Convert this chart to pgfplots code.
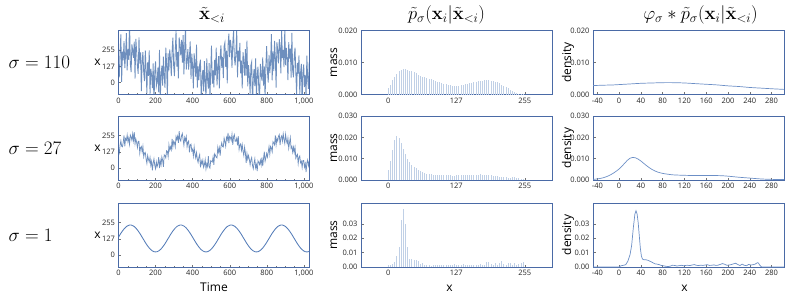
\RequirePackage{fix-cm}
\documentclass[border=0pt]{standalone}
\usepackage{pgfplots}
\pgfplotsset{compat=1.18}
\usepackage[no-math]{fontspec}
\setmainfont{Open Sans}
\definecolor{framec}{RGB}{74,106,166}
\definecolor{tsc}{RGB}{62,106,168}
\definecolor{sinc}{RGB}{84,124,184}
\definecolor{barc}{RGB}{192,208,230}
\definecolor{densc}{RGB}{108,143,198}
\newcommand\lbl{\fontsize{12}{14}\selectfont}
\newcommand\ttl{\fontsize{18.5}{22}\selectfont}
\newcommand\rowl{\fontsize{19}{22}\selectfont}
\pgfplotsset{
  base/.style={
    scale only axis, width=191pt, height=64pt, anchor=north west,
    axis line style={framec, line width=0.8pt},
    tick align=inside, major tick length=2.5pt, minor tick length=1.5pt,
    every tick/.style={black!55, line width=0.4pt},
    xtick pos=bottom, ytick pos=left,
    tick label style={font=\fontsize{7.5}{9}\selectfont, text=black!85},
    /pgf/number format/assume math mode=true,
    clip mode=individual,
    scaled ticks=false,
  },
  c1/.style={base, xmin=0, xmax=1030, ymin=-95, ymax=410,
    xtick={0,200,400,600,800,1000}, minor x tick num=3, ytick={0,127,255},
    xticklabel style={/pgf/number format/.cd, 1000 sep={,}}},
  c2/.style={base, xmin=-51, xmax=306, ymin=0, xtick={0,127,255}},
  c3/.style={base, xmin=-48, xmax=303, ymin=0, xtick={-40,0,40,80,120,160,200,240,280}},
  p3/.style={yticklabel style={/pgf/number format/.cd, fixed, fixed zerofill, precision=3}},
  p2/.style={yticklabel style={/pgf/number format/.cd, fixed, fixed zerofill, precision=2}},
  ts/.style={tsc, line width=0.75pt, opacity=0.75},
  bars/.style={ycomb, barc, line width=0.9pt, no markers},
  dens/.style={densc, line width=0.7pt, no markers},
}
\begin{document}
\begin{tikzpicture}
\useasboundingbox (0,0) rectangle (789pt,-298pt);
% ---------------- Row 1 ----------------
\begin{axis}[c1, at={(118.5pt,-30.5pt)}]
\addplot[ts, line width=0.85pt] table[row sep=\\, x expr=\coordindex*4.25, y index=0] {y\\96\\41\\249\\380\\4\\244\\175\\326\\113\\218\\389\\96\\264\\179\\500\\148\\82\\300\\253\\195\\323\\31\\344\\249\\131\\68\\356\\149\\238\\-69\\173\\240\\76\\10\\253\\100\\-85\\159\\52\\253\\-95\\108\\59\\-45\\150\\-183\\80\\167\\-30\\4\\117\\-78\\257\\-134\\48\\132\\-25\\203\\47\\-43\\275\\153\\-122\\229\\96\\261\\183\\50\\246\\354\\131\\51\\245\\405\\125\\239\\33\\355\\291\\214\\335\\157\\374\\63\\268\\449\\102\\172\\263\\101\\202\\325\\29\\228\\129\\-46\\230\\142\\44\\298\\-41\\126\\19\\143\\180\\-178\\48\\98\\-70\\169\\3\\-119\\190\\26\\-48\\153\\-128\\86\\290\\-11\\96\\-39\\179\\56\\275\\-23\\109\\207\\-47\\206\\293\\116\\202\\35\\285\\315\\124\\251\\-7\\294\\385\\201\\335\\280\\115\\311\\407\\195\\136\\240\\421\\40\\252\\167\\312\\72\\172\\-47\\239\\163\\54\\263\\55\\331\\-30\\137\\52\\-88\\136\\163\\-183\\32\\106\\-29\\190\\-108\\58\\125\\-48\\-144\\147\\64\\15\\198\\-25\\126\\-129\\133\\286\\87\\-1\\218\\74\\162\\381\\17\\246\\90\\329\\194\\-41\\317\\257\\151\\341\\278\\71\\412\\192\\256\\121\\426\\136\\273\\190\\18\\318\\189\\268\\39\\392\\96\\41\\207\\274\\76\\-99\\155\\69\\214\\-91\\77\\147\\-189\\81\\142\\-37\\59\\-118\\211\\36\\-51\\161\\};
\node[font=\lbl] at ([xshift=-21pt]rel axis cs:0,0.5) {x};
\node[font=\ttl] at ([xshift=-2pt,yshift=15.5pt]rel axis cs:0.5,1) {$\tilde{\mathbf{x}}_{<i}$};
\node[anchor=west, font=\rowl] at ([xshift=-113.5pt]rel axis cs:0,0.5) {$\sigma = 110$};
\end{axis}
\begin{axis}[c2, p3, at={(361pt,-30.5pt)}, ymax=0.02, ytick={0,0.01,0.02}]
\addplot[bars] table[row sep=\\, x expr=\coordindex*4, y index=0] {y\\0.0019\\0.0030\\0.0045\\0.0056\\0.0065\\0.0072\\0.0076\\0.0079\\0.0079\\0.0077\\0.0075\\0.0072\\0.0069\\0.0066\\0.0062\\0.0059\\0.0056\\0.0054\\0.0052\\0.0050\\0.0047\\0.0045\\0.0042\\0.0040\\0.0038\\0.0036\\0.0034\\0.0032\\0.0030\\0.0029\\0.0028\\0.0027\\0.0027\\0.0028\\0.0029\\0.0030\\0.0032\\0.0033\\0.0035\\0.0037\\0.0039\\0.0040\\0.0041\\0.0042\\0.0043\\0.0044\\0.0044\\0.0044\\0.0043\\0.0042\\0.0040\\0.0038\\0.0035\\0.0031\\0.0027\\0.0023\\0.0019\\0.0015\\0.0011\\0.0008\\0.0005\\0.0003\\0.0002\\0.0001\\};
\node[rotate=90, font=\lbl] at ([xshift=-27pt]rel axis cs:0,0.5) {mass};
\node[font=\ttl] at ([xshift=-10pt,yshift=15.5pt]rel axis cs:0.5,1) {$\tilde{p}_\sigma(\mathbf{x}_i|\tilde{\mathbf{x}}_{<i})$};
\end{axis}
\begin{axis}[c3, p3, at={(593pt,-30.5pt)}, ymax=0.02, ytick={0,0.01,0.02}]
\addplot[dens, smooth] coordinates {(-48,0.0028) (-30,0.0029) (-10,0.0030) (0,0.0031) (20,0.0033) (40,0.0035) (60,0.0036) (80,0.0037) (100,0.0037) (120,0.0036) (140,0.0034) (160,0.0032) (180,0.0030) (200,0.0027) (220,0.0025) (240,0.0022) (260,0.0020) (280,0.0018) (303,0.0016)};
\node[rotate=90, font=\lbl] at ([xshift=-25pt]rel axis cs:0,0.5) {density};
\node[font=\ttl] at ([xshift=12pt,yshift=15.5pt]rel axis cs:0.5,1) {$\varphi_\sigma * \tilde{p}_\sigma(\mathbf{x}_i|\tilde{\mathbf{x}}_{<i})$};
\end{axis}
% ---------------- Row 2 ----------------
\begin{axis}[c1, at={(118.5pt,-116pt)}]
\addplot[ts] table[row sep=\\, x expr=\coordindex*4.25, y index=0] {y\\151\\121\\180\\214\\172\\167\\202\\256\\171\\232\\219\\260\\207\\237\\187\\260\\244\\218\\269\\217\\283\\191\\228\\202\\162\\211\\210\\117\\161\\170\\126\\171\\88\\117\\123\\70\\37\\98\\68\\47\\83\\20\\51\\-19\\40\\72\\20\\-6\\47\\10\\32\\86\\-1\\58\\24\\87\\60\\9\\104\\97\\80\\136\\131\\89\\183\\140\\166\\144\\229\\167\\211\\200\\166\\248\\224\\250\\199\\291\\222\\212\\255\\272\\223\\179\\240\\215\\247\\167\\202\\213\\123\\182\\188\\135\\148\\95\\166\\112\\80\\121\\69\\44\\85\\106\\5\\56\\32\\62\\5\\26\\66\\-8\\33\\12\\94\\10\\-1\\58\\53\\47\\87\\25\\112\\100\\83\\79\\163\\125\\159\\97\\169\\198\\169\\165\\235\\208\\171\\240\\221\\277\\196\\250\\241\\217\\266\\183\\245\\263\\210\\213\\234\\178\\251\\146\\180\\190\\139\\183\\132\\98\\163\\120\\40\\113\\69\\98\\68\\25\\64\\83\\21\\-6\\37\\72\\1\\27\\-24\\56\\43\\27\\61\\23\\83\\14\\74\\128\\53\\81\\115\\87\\125\\168\\108\\170\\158\\128\\207\\197\\183\\256\\182\\232\\213\\250\\263\\180\\239\\252\\212\\269\\226\\193\\265\\218\\193\\235\\156\\200\\239\\155\\169\\124\\164\\122\\163\\77\\96\\108\\34\\85\\95\\41\\53\\4\\59\\59\\7\\34\\-32\\40\\63\\18\\53\\};
\node[font=\lbl] at ([xshift=-21pt]rel axis cs:0,0.5) {x};
\node[anchor=west, font=\rowl] at ([xshift=-113.5pt]rel axis cs:0,0.5) {$\sigma = 27$};
\end{axis}
\begin{axis}[c2, p3, at={(361pt,-116pt)}, ymax=0.03, ytick={0,0.01,0.02,0.03}]
\addplot[bars] table[row sep=\\, x expr=\coordindex*4, y index=0] {y\\0.0045\\0.0088\\0.0140\\0.0186\\0.0206\\0.0195\\0.0172\\0.0145\\0.0120\\0.0100\\0.0085\\0.0072\\0.0062\\0.0054\\0.0047\\0.0042\\0.0037\\0.0033\\0.0030\\0.0028\\0.0026\\0.0025\\0.0024\\0.0024\\0.0023\\0.0023\\0.0022\\0.0022\\0.0022\\0.0022\\0.0021\\0.0021\\0.0022\\0.0022\\0.0023\\0.0023\\0.0024\\0.0024\\0.0024\\0.0025\\0.0025\\0.0025\\0.0025\\0.0026\\0.0025\\0.0025\\0.0024\\0.0023\\0.0022\\0.0021\\0.0020\\0.0018\\0.0016\\0.0014\\0.0013\\0.0012\\0.0011\\0.0010\\0.0012\\0.0015\\0.0011\\0.0008\\0.0007\\0.0007\\};
\node[rotate=90, font=\lbl] at ([xshift=-27pt]rel axis cs:0,0.5) {mass};
\end{axis}
\begin{axis}[c3, p3, at={(593pt,-116pt)}, ymax=0.03, ytick={0,0.01,0.02,0.03}]
\addplot[dens, smooth] coordinates {(-48,0.0003) (-40,0.0005) (-30,0.0010) (-20,0.0019) (-10,0.0033) (0,0.0052) (10,0.0078) (15,0.0092) (20,0.0102) (25,0.0106) (30,0.0104) (35,0.0098) (40,0.0089) (50,0.0068) (60,0.0050) (70,0.0038) (80,0.0031) (90,0.0027) (100,0.0024) (120,0.0022) (140,0.0021) (160,0.0021) (175,0.0021) (190,0.0020) (200,0.0018) (220,0.0013) (240,0.0009) (260,0.0005) (280,0.0003) (303,0.0002)};
\node[rotate=90, font=\lbl] at ([xshift=-25pt]rel axis cs:0,0.5) {density};
\end{axis}
% ---------------- Row 3 ----------------
\begin{axis}[c1, at={(118.5pt,-203pt)}]
\addplot[sinc, line width=0.85pt] table[row sep=\\, x expr=\coordindex*4.25, y index=0] {y\\140\\151\\161\\171\\180\\189\\197\\205\\212\\218\\224\\228\\231\\234\\236\\236\\236\\234\\231\\228\\224\\218\\212\\205\\197\\189\\180\\171\\161\\151\\140\\130\\120\\109\\99\\89\\80\\71\\63\\55\\48\\42\\37\\32\\29\\26\\25\\24\\25\\26\\29\\32\\37\\42\\48\\55\\63\\71\\80\\89\\99\\109\\120\\130\\140\\151\\161\\171\\180\\189\\197\\205\\212\\218\\224\\228\\231\\234\\236\\236\\236\\234\\231\\228\\224\\218\\212\\205\\197\\189\\180\\171\\161\\151\\140\\130\\120\\109\\99\\89\\80\\71\\63\\55\\48\\42\\37\\32\\29\\26\\25\\24\\25\\26\\29\\32\\37\\42\\48\\55\\63\\71\\80\\89\\99\\109\\120\\130\\140\\151\\161\\171\\180\\189\\197\\205\\212\\218\\224\\228\\231\\234\\236\\236\\236\\234\\231\\228\\224\\218\\212\\205\\197\\189\\180\\171\\161\\151\\140\\130\\120\\109\\99\\89\\80\\71\\63\\55\\48\\42\\37\\32\\29\\26\\25\\24\\25\\26\\29\\32\\37\\42\\48\\55\\63\\71\\80\\89\\99\\109\\120\\130\\140\\151\\161\\171\\180\\189\\197\\205\\212\\218\\224\\228\\231\\234\\236\\236\\236\\234\\231\\228\\224\\218\\212\\205\\197\\189\\180\\171\\161\\151\\140\\130\\120\\109\\99\\89\\80\\71\\63\\55\\48\\42\\37\\32\\29\\26\\25\\24\\25\\26\\29\\};
\node[font=\lbl] at ([xshift=-21pt]rel axis cs:0,0.5) {x};
\node[font=\lbl] at ([yshift=-20pt]rel axis cs:0.5,0) {Time};
\node[anchor=west, font=\rowl] at ([xshift=-113.5pt]rel axis cs:0,0.5) {$\sigma = 1$};
\end{axis}
\begin{axis}[c2, p2, at={(361pt,-203pt)}, ymax=0.0446, ytick={0,0.01,0.02,0.03}]
\addplot[bars] table[row sep=\\, x expr=\coordindex*4, y index=0] {y\\0.0012\\0.0013\\0.0020\\0.0035\\0.0080\\0.0140\\0.0330\\0.0403\\0.0300\\0.0140\\0.0058\\0.0055\\0.0052\\0.0050\\0.0040\\0.0020\\0.0027\\0.0015\\0.0017\\0.0017\\0.0010\\0.0013\\0.0017\\0.0014\\0.0013\\0.0016\\0.0012\\0.0014\\0.0017\\0.0013\\0.0016\\0.0022\\0.0015\\0.0013\\0.0014\\0.0019\\0.0012\\0.0014\\0.0013\\0.0017\\0.0012\\0.0015\\0.0016\\0.0022\\0.0014\\0.0012\\0.0035\\0.0033\\0.0018\\0.0017\\0.0025\\0.0016\\0.0030\\0.0040\\0.0020\\0.0013\\0.0030\\0.0029\\0.0012\\0.0028\\0.0015\\0.0020\\0.0026\\0.0038\\};
\node[rotate=90, font=\lbl] at ([xshift=-27pt]rel axis cs:0,0.5) {mass};
\node[font=\lbl] at ([xshift=-7pt,yshift=-21pt]rel axis cs:0.5,0) {x};
\end{axis}
\begin{axis}[c3, p2, at={(593pt,-203pt)}, ymax=0.0446, ytick={0,0.01,0.02,0.03}]
\addplot[dens] coordinates {(-48,0) (0,0) (3,0.0008) (8,0.0012) (12,0.0016) (16,0.0040) (20,0.0085) (23,0.0150) (26,0.0270) (29,0.0370) (31,0.0392) (33,0.0370) (35,0.0310) (37,0.0220) (39,0.0130) (41,0.0075) (43,0.0055) (46,0.0050) (50,0.0050) (54,0.0045) (58,0.0038) (62,0.0030) (66,0.0022) (70,0.0020) (74,0.0016) (78,0.0010) (82,0.0008) (86,0.0005) (90,0.0003) (94,0.0006) (98,0.0012) (102,0.0011) (106,0.0007) (110,0.0009) (114,0.0012) (118,0.0009) (122,0.0011) (126,0.0012) (130,0.0010) (134,0.0014) (138,0.0017) (142,0.0012) (146,0.0010) (150,0.0013) (154,0.0011) (158,0.0014) (162,0.0016) (166,0.0011) (170,0.0012) (174,0.0015) (178,0.0011) (182,0.0013) (186,0.0018) (190,0.0024) (194,0.0019) (198,0.0012) (202,0.0014) (206,0.0017) (210,0.0022) (214,0.0026) (218,0.0018) (222,0.0010) (226,0.0020) (230,0.0012) (234,0.0009) (238,0.0018) (242,0.0014) (246,0.0016) (250,0.0020) (254,0.0030) (256,0.0028) (258,0.0015) (261,0.0002) (264,0) (303,0)};
\node[rotate=90, font=\lbl] at ([xshift=-25pt]rel axis cs:0,0.5) {density};
\node[font=\lbl] at ([xshift=-4pt,yshift=-21pt]rel axis cs:0.5,0) {x};
\end{axis}
\end{tikzpicture}
\end{document}
